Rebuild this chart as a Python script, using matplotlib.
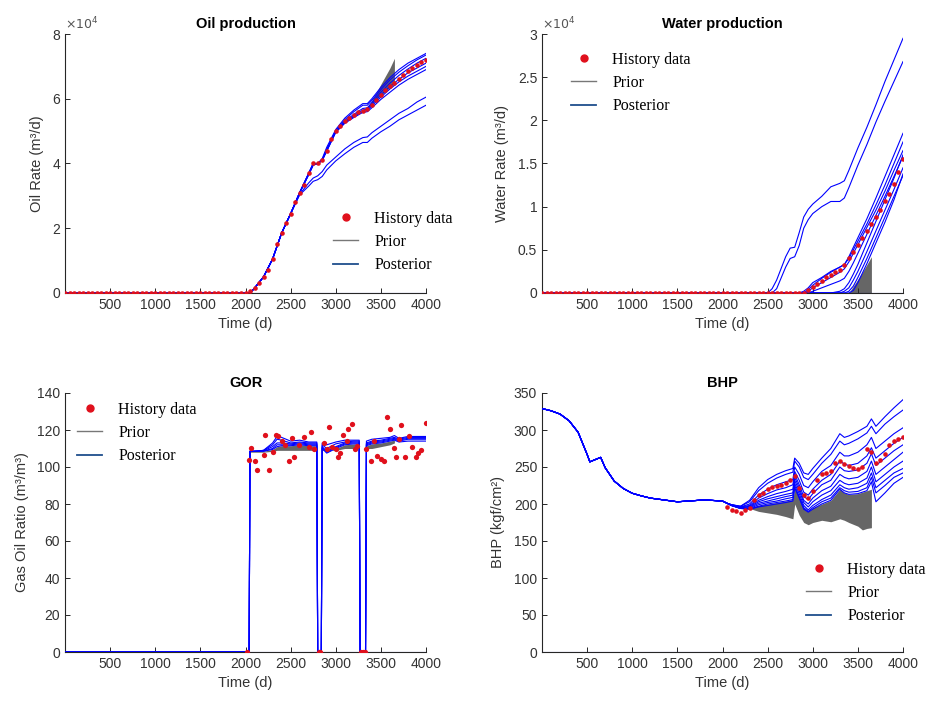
import numpy as np
import matplotlib.pyplot as plt
from matplotlib.lines import Line2D
from matplotlib.ticker import FuncFormatter

plt.rcParams['font.family'] = ['Liberation Sans', 'DejaVu Sans']

HIST_C = '#e0101c'
POST_C = '#0000ff'
PRIOR_C = '#666666'

# ---------------- Oil production (x1e4 m3/d) ----------------
oil_t = [0, 2000, 2050, 2100, 2200, 2300, 2400, 2500, 2600, 2700, 2750, 2800, 2850,
         2900, 3000, 3100, 3200, 3300, 3350, 3400, 3500, 3600, 3700, 3800, 3900, 4000]
oil_pre = [0, 0, 0, 0.15, 0.5, 1.05, 1.85, 2.45, 3.1]
oil_post = [
    oil_pre + [3.65, 3.95, 4.0, 4.15, 4.5, 5.05, 5.4, 5.65, 5.85, 5.85, 6.0, 6.35, 6.65, 6.9, 7.1, 7.25, 7.4],
    oil_pre + [3.65, 3.95, 4.0, 4.12, 4.45, 5.0, 5.35, 5.6, 5.8, 5.8, 5.95, 6.28, 6.58, 6.82, 7.02, 7.2, 7.35],
    oil_pre + [3.68, 3.98, 4.0, 4.1, 4.42, 5.0, 5.3, 5.52, 5.7, 5.72, 5.88, 6.2, 6.48, 6.72, 6.92, 7.1, 7.25],
    oil_pre + [3.68, 3.98, 4.0, 4.1, 4.4, 4.98, 5.28, 5.48, 5.65, 5.68, 5.82, 6.12, 6.38, 6.6, 6.8, 6.95, 7.1],
    oil_pre + [3.7, 4.0, 4.0, 4.1, 4.4, 4.98, 5.26, 5.45, 5.6, 5.64, 5.78, 6.05, 6.3, 6.52, 6.7, 6.85, 7.0],
    oil_pre + [3.7, 4.0, 4.0, 4.1, 4.38, 4.96, 5.24, 5.42, 5.58, 5.6, 5.72, 5.98, 6.2, 6.42, 6.6, 6.75, 6.9],
    oil_pre[:-1] + [3.05, 3.4, 3.55, 3.62, 3.75, 3.95, 4.2, 4.45, 4.65, 4.8, 4.82, 4.95, 5.15, 5.35, 5.55, 5.7, 5.9, 6.05],
    oil_pre[:-1] + [3.03, 3.3, 3.45, 3.5, 3.6, 3.8, 4.08, 4.3, 4.5, 4.65, 4.65, 4.78, 4.98, 5.15, 5.35, 5.5, 5.65, 5.8],
]
oil_prior_t = [3350, 3400, 3500, 3600, 3650]
oil_prior_lo = [5.7, 5.85, 6.1, 6.35, 6.45]
oil_prior_hi = [5.75, 5.95, 6.45, 6.95, 7.25]
hist_t = np.arange(0, 4001, 50)
oil_hist = [0.0] * 41 + [0.05, 0.15, 0.3, 0.5, 0.7, 1.05, 1.5, 1.85, 2.15, 2.45, 2.8, 3.1, 3.35,
                         3.7, 4.0, 4.0, 4.1, 4.4, 4.75, 5.0, 5.15, 5.3, 5.4, 5.5, 5.58, 5.62, 5.68,
                         5.82, 5.97, 6.12, 6.27, 6.38, 6.5, 6.62, 6.74, 6.85, 6.95, 7.05, 7.13, 7.2]

# ---------------- Water production (x1e4 m3/d) ----------------
wat_t = [0, 2500, 2550, 2600, 2700, 2750, 2800, 2850, 2900, 2950, 3000, 3100, 3200,
         3300, 3350, 3400, 3450, 3500, 3600, 3700, 3800, 3900, 4000]
wat_post = [
    [0] * 9 + [0.04, 0.09, 0.17, 0.24, 0.3, 0.33, 0.4, 0.5, 0.6, 0.8, 1.02, 1.25, 1.5, 1.75],
    [0] * 8 + [0.02, 0.06, 0.12, 0.18, 0.25, 0.3, 0.33, 0.42, 0.53, 0.64, 0.86, 1.1, 1.35, 1.6, 1.85],
    [0] * 9 + [0.02, 0.06, 0.12, 0.18, 0.24, 0.28, 0.36, 0.46, 0.56, 0.76, 0.96, 1.18, 1.42, 1.65],
    [0] * 10 + [0.02, 0.06, 0.1, 0.14, 0.17, 0.25, 0.35, 0.46, 0.68, 0.9, 1.12, 1.35, 1.58],
    [0] * 13 + [0.02, 0.05, 0.12, 0.22, 0.33, 0.58, 0.83, 1.08, 1.33, 1.6],
    [0] * 14 + [0.02, 0.06, 0.15, 0.25, 0.48, 0.72, 0.96, 1.2, 1.45],
    [0] * 15 + [0.02, 0.08, 0.18, 0.4, 0.64, 0.88, 1.12, 1.36],
    [0] * 16 + [0.03, 0.12, 0.34, 0.58, 0.82, 1.08, 1.38],
    [0, 0, 0.05, 0.15, 0.42, 0.52, 0.53, 0.7, 0.88, 0.97, 1.03, 1.12, 1.23, 1.27, 1.3,
     1.42, 1.55, 1.68, 1.92, 2.18, 2.45, 2.7, 2.95],
    [0, 0, 0, 0.05, 0.3, 0.4, 0.42, 0.55, 0.75, 0.85, 0.92, 1.0, 1.06, 1.06, 1.1,
     1.22, 1.35, 1.48, 1.72, 1.98, 2.22, 2.45, 2.68],
]
wat_prior_t = [3400, 3450, 3500, 3550, 3600, 3650]
wat_prior_lo = [0, 0, 0, 0, 0, 0]
wat_prior_hi = [0, 0.08, 0.16, 0.24, 0.33, 0.42]
wat_hist = [0.0] * 59 + [0.03, 0.07, 0.1, 0.14, 0.18, 0.21, 0.24, 0.27, 0.33, 0.4, 0.48, 0.56,
                         0.64, 0.72, 0.8, 0.88, 0.96, 1.06, 1.15, 1.26, 1.4, 1.55]

# ---------------- GOR (m3/m3) ----------------
gor_t = [0, 2040, 2050, 2100, 2200, 2300, 2350, 2400, 2500, 2600, 2700, 2790, 2800, 2840,
         2850, 2900, 3000, 3100, 3200, 3260, 3270, 3330, 3340, 3400, 3500, 3600, 3650,
         3700, 3800, 3900, 4000]
gor_post = [
    [0, 0, 108.5, 108.5, 109, 113, 116.5, 116, 114, 114.5, 113.5, 113.5, 0, 0, 113, 112, 113.5,
     114.5, 114.5, 114.5, 0, 0, 114, 115, 115.5, 116, 117, 115.5, 116.5, 116.5, 116.5],
    [0, 0, 108.5, 108.5, 109, 112, 115, 114.5, 113, 113.5, 113, 113, 0, 0, 112, 110, 112.5,
     113.5, 114, 114, 0, 0, 113, 114, 114.5, 115.5, 116, 115, 116, 116, 116],
    [0, 0, 108.5, 108.5, 108.8, 111, 113, 113, 112.5, 113, 112.5, 112.5, 0, 0, 111, 108.5, 111,
     113, 113.5, 113.5, 0, 0, 112.5, 113.5, 114, 115, 115.5, 114.5, 115.5, 115.5, 115.5],
    [0, 0, 108.5, 108.5, 108.6, 110, 112, 112, 112, 112.5, 112, 112, 0, 0, 110.5, 108, 110.5,
     112.5, 113, 113, 0, 0, 112, 113, 113.5, 114.5, 115, 114, 115, 115, 115],
    [0, 0, 108.5, 108.5, 108.5, 109.5, 111, 111.5, 111.5, 112, 111.5, 111.5, 0, 0, 110, 107.5, 110,
     112, 112.5, 112.5, 0, 0, 111.5, 112.5, 113, 114, 114.5, 113.5, 114, 114, 114],
]
gor_prior_t = gor_t[:27]
gor_prior_lo = [0, 0, 108, 108, 108, 108.5, 109, 109, 109, 109, 109, 109, 0, 0, 109, 109, 109,
                110, 110, 110, 0, 0, 110, 110, 111, 112, 113]
gor_prior_hi = [0, 0, 108.5, 108.5, 108.5, 109.5, 111, 111.5, 111.5, 112, 111.5, 111.5, 0, 0,
                110, 108, 110, 112, 112.5, 112.5, 0, 0, 111.5, 112.5, 113, 114, 114.5]
gor_hist_t = [2040, 2060, 2100, 2130, 2200, 2220, 2260, 2300, 2340, 2365, 2400, 2440, 2480,
              2510, 2540, 2590, 2650, 2700, 2725, 2760, 2870, 2900, 2930, 2960, 3000, 3020,
              3050, 3080, 3120, 3140, 3175, 3215, 3240, 3340, 3390, 3420, 3455, 3500, 3530,
              3570, 3600, 3640, 3665, 3700, 3725, 3770, 3815, 3850, 3890, 3915, 3940, 4005,
              2020, 2810, 2830, 3280, 3300, 3320]
gor_hist = [104, 110.5, 103, 98.5, 106.5, 117.5, 98.4, 108, 117.5, 117, 114, 112, 103.5,
            115.5, 105.5, 112, 116, 111, 119, 109.5, 113, 109.5, 121.5, 111, 110, 105.5,
            107.5, 117.5, 114, 120.5, 123.5, 110, 111.5, 109.5, 103.5, 114, 106, 104.5, 103.5,
            127, 120.5, 110.5, 105.5, 115, 122.5, 105.5, 117, 111, 105.5, 107.5, 109, 124,
            0, 0, 0, 0, 0, 0]

# ---------------- BHP (kgf/cm2) ----------------
bhp_early_t = [0, 100, 200, 300, 400, 500, 530, 600, 650, 700, 800, 900, 1000, 1100, 1200,
               1500, 1800, 2000, 2050]
bhp_early = [329, 326, 321.5, 312.5, 297, 267, 257, 260.5, 263, 249, 231, 221, 214.5, 211,
             208, 203, 205.5, 204, 201]
bhp_late_t = [2100, 2200, 2300, 2400, 2500, 2600, 2700, 2780, 2800, 2850, 2900, 2950, 3000,
              3100, 3200, 3300, 3350, 3400, 3500, 3600, 3650, 3700, 3800, 3900, 4000]
bhp_post = [
    [199, 197, 205, 222, 233, 240, 245, 248, 262, 255, 242, 240, 248, 262, 275, 295, 290, 292, 298, 305, 315, 305, 318, 330, 341],
    [199, 197, 203, 218, 228, 235, 240, 243, 258, 250, 236, 233, 240, 255, 267, 285, 280, 282, 288, 296, 305, 295, 308, 318, 327],
    [199, 196, 200, 212, 220, 226, 230, 233, 250, 240, 225, 222, 230, 244, 252, 270, 265, 265, 270, 280, 290, 275, 285, 295, 303],
    [199, 196, 198, 208, 214, 219, 222, 226, 244, 232, 216, 212, 220, 232, 240, 258, 254, 252, 255, 265, 276, 262, 272, 282, 290],
    [198, 195, 197, 205, 210, 214, 217, 220, 240, 226, 210, 206, 214, 226, 232, 250, 245, 244, 246, 255, 268, 252, 262, 272, 280],
    [198, 195, 196, 203, 207, 210, 213, 215, 236, 222, 205, 200, 208, 218, 224, 240, 236, 234, 236, 244, 258, 240, 250, 260, 270],
    [198, 194, 195, 201, 204, 207, 210, 212, 232, 218, 202, 196, 203, 212, 218, 232, 228, 226, 228, 235, 250, 230, 240, 250, 258],
    [198, 194, 194, 199, 202, 204, 207, 209, 228, 214, 198, 192, 198, 206, 212, 226, 222, 220, 222, 228, 242, 222, 232, 242, 248],
    [198, 194, 193, 197, 200, 202, 204, 206, 225, 210, 195, 190, 195, 203, 208, 222, 218, 216, 217, 222, 236, 215, 225, 236, 242],
    [198, 194, 193, 196, 198, 200, 202, 204, 222, 208, 193, 189, 193, 200, 205, 220, 215, 213, 214, 218, 230, 203, 215, 228, 236],
]
bhp_prior_t = [2300, 2400, 2500, 2600, 2700, 2780, 2800, 2850, 2900, 2950, 3000, 3100, 3200,
               3300, 3350, 3400, 3500, 3550, 3600, 3650]
bhp_prior_lo = [194, 190, 188, 186, 183, 180, 200, 185, 175, 172, 175, 178, 176, 180, 178,
                175, 170, 165, 167, 168]
bhp_prior_hi = [195, 198, 200, 202, 204, 206, 222, 210, 195, 190, 195, 200, 205, 220, 215,
                213, 214, 216, 218, 220]
bhp_hist_t = np.arange(2050, 4001, 50)
bhp_hist = [196, 192, 190, 188, 192, 195, 205, 212, 215, 220, 223, 224, 226, 228, 233, 238,
            222, 212, 208, 218, 232, 240, 242, 245, 256, 258, 254, 252, 249, 247, 250, 274,
            270, 255, 260, 267, 280, 285, 288, 290]

W, H = 935, 702
fig = plt.figure(figsize=(W / 100, H / 100), dpi=100)


def make_ax(left, top, title, ylabel, ylim, yticks, sci=False):
    ax = fig.add_axes([left / W, 1 - (top + 259) / H, 361 / W, 259 / H])
    ax.set_xlim(0, 4000)
    ax.set_ylim(*ylim)
    ax.set_xticks(range(500, 4001, 500))
    ax.set_yticks(yticks)
    ax.yaxis.set_major_formatter(FuncFormatter(lambda v, p: f'{v:g}'))
    ax.spines['top'].set_visible(False)
    ax.spines['right'].set_visible(False)
    for s in ('left', 'bottom'):
        ax.spines[s].set_color('#262626')
        ax.spines[s].set_linewidth(0.8)
    ax.tick_params(direction='in', length=3.5, width=0.7, labelsize=10,
                   labelcolor='#333333', color='#262626')
    ax.set_title(title, fontsize=10.5, fontweight='bold', pad=4)
    ax.set_xlabel('Time (d)', fontsize=10.5, color='#333333', labelpad=4)
    ax.set_ylabel(ylabel, fontsize=10.5, color='#333333', labelpad=6)
    if sci:
        ax.text(0.0, 1.005, r'$\times10^4$', transform=ax.transAxes, ha='left',
                va='bottom', fontsize=9, color='#555555')
    return ax


def add_legend(ax, x, y):
    handles = [Line2D([], [], ls='none', marker='o', ms=5, color=HIST_C),
               Line2D([], [], color='#777777', lw=1),
               Line2D([], [], color='#1f4e8c', lw=1.3)]
    ax.legend(handles, ['History data', 'Prior', 'Posterior'], frameon=False,
              loc='upper left', bbox_to_anchor=(x / W, 1 - y / H),
              bbox_transform=fig.transFigure, borderaxespad=0, borderpad=0.3,
              prop={'family': 'Liberation Serif', 'size': 11.5},
              handlelength=1.6, handletextpad=1.0, labelspacing=0.45)


def draw(ax, t, members, prior_t, lo, hi, ht, hv, ms=3.3):
    ax.fill_between(prior_t, lo, hi, color=PRIOR_C, lw=0, zorder=1)
    for m in members:
        ax.plot(t, m, color=POST_C, lw=0.8, zorder=3)
    ax.plot(t, np.zeros(len(t)), color=POST_C, lw=0.8, alpha=0.6, zorder=3)
    ax.plot(ht, hv, ls='none', marker='o', ms=ms, color=HIST_C, mew=0, zorder=4)


ax1 = make_ax(65, 34, 'Oil production', 'Oil Rate (m³/d)', (0, 8), range(0, 9, 2), sci=True)
draw(ax1, oil_t, oil_post, oil_prior_t, oil_prior_lo, oil_prior_hi, hist_t, oil_hist)
add_legend(ax1, 328, 206)

ax2 = make_ax(542, 34, 'Water production', 'Water Rate (m³/d)', (0, 3),
              [0, 0.5, 1, 1.5, 2, 2.5, 3], sci=True)
draw(ax2, wat_t, wat_post, wat_prior_t, wat_prior_lo, wat_prior_hi, hist_t, wat_hist)
add_legend(ax2, 566, 47)

ax3 = make_ax(65, 393, 'GOR', 'Gas Oil Ratio (m³/m³)', (0, 140), range(0, 141, 20))
draw(ax3, gor_t, gor_post, gor_prior_t, gor_prior_lo, gor_prior_hi, gor_hist_t, gor_hist, ms=3.8)
add_legend(ax3, 72, 397)

ax4 = make_ax(542, 393, 'BHP', 'BHP (kgf/cm²)', (0, 350), range(0, 351, 50))
bhp_t = bhp_early_t + bhp_late_t
draw(ax4, bhp_t, [bhp_early + m for m in bhp_post], bhp_prior_t, bhp_prior_lo, bhp_prior_hi,
     bhp_hist_t, bhp_hist)
add_legend(ax4, 801, 557)

fig.savefig('out.png', dpi=100)
